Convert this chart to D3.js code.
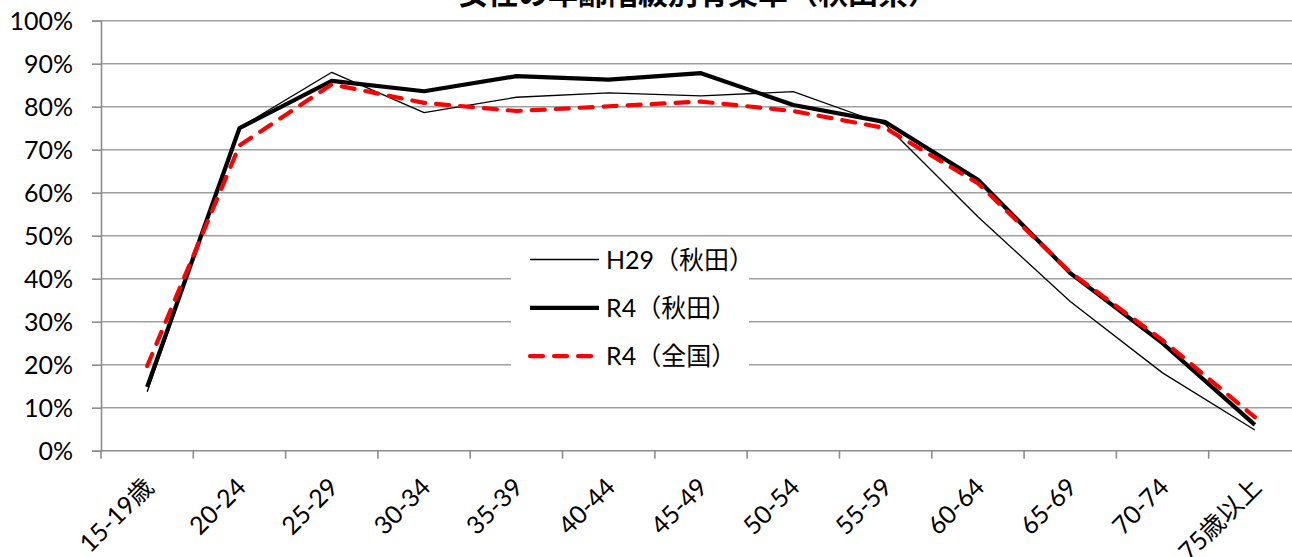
<!doctype html>
<html>
<head>
<meta charset="utf-8" />
<script src="https://cdn.jsdelivr.net/npm/d3@7"></script>
<style>
 body { margin: 0; background: #fff; }
 svg text { font-family: "Lato", "Noto Sans CJK JP", sans-serif; fill: #000; }
</style>
</head>
<body>
<script>
 // data (percent)
 var categories = ["15-19歳","20-24","25-29","30-34","35-39","40-44","45-49","50-54","55-59","60-64","65-69","70-74","75歳以上"];
 var h29Akita = [13.7, 75.1, 88.0, 78.6, 82.2, 83.2, 82.5, 83.5, 75.8, 54.4, 34.7, 18.1, 4.8];
 var r4Akita  = [14.8, 75.0, 86.0, 83.6, 87.1, 86.3, 87.8, 80.4, 76.4, 63.0, 41.3, 25.0, 6.0];
 var r4Zenkoku = [19.7, 71.0, 85.2, 80.9, 79.0, 80.1, 81.2, 79.0, 75.0, 62.2, 41.5, 25.7, 7.8];
 var yTicks = [0,10,20,30,40,50,60,70,80,90,100];

 var w = 1292, h = 557;
 var plotLeft = 101, plotRight = 1301, plotTop = 20.7, plotBottom = 450.7;

 var svg = d3.select("body").append("svg")
     .attr("width", w).attr("height", h);

 var xScale = d3.scaleBand().domain(categories).range([plotLeft, plotRight]);
 var yScale = d3.scaleLinear().domain([0,100]).range([plotBottom, plotTop]);

 // title (cut off at top in the original)
 svg.append("text")
    .attr("x", 698).attr("y", 4)
    .attr("text-anchor", "middle")
    .attr("font-size", "30px")
    .attr("font-weight", "bold")
    .text("女性の年齢階級別有業率（秋田県）");

 // gridlines
 svg.append("g").selectAll("line")
    .data(yTicks.slice(1))
    .enter().append("line")
    .attr("x1", plotLeft).attr("x2", plotRight)
    .attr("y1", function(d){ return yScale(d); })
    .attr("y2", function(d){ return yScale(d); })
    .attr("stroke", "#a0a0a0").attr("stroke-width", 1.6);

 // y axis
 var yAxis = d3.axisLeft(yScale).tickValues(yTicks).tickSize(9).tickPadding(19)
     .tickFormat(function(d){ return d + "%"; });
 var gy = svg.append("g").attr("transform", "translate(" + plotLeft + ",0)").call(yAxis);
 gy.select(".domain").attr("stroke", "#8c8c8c").attr("stroke-width", 1.6);
 gy.selectAll(".tick line").attr("stroke", "#8c8c8c").attr("stroke-width", 1.6);
 gy.selectAll("text").attr("font-size", "25px").attr("font-family", null).attr("dy", "0.36em");

 // x axis line and ticks at band edges
 svg.append("line")
    .attr("x1", plotLeft).attr("x2", plotRight)
    .attr("y1", plotBottom).attr("y2", plotBottom)
    .attr("stroke", "#8c8c8c").attr("stroke-width", 1.6);
 svg.append("g").selectAll("line")
    .data(categories)
    .enter().append("line")
    .attr("x1", function(d){ return xScale(d); })
    .attr("x2", function(d){ return xScale(d); })
    .attr("y1", plotBottom).attr("y2", plotBottom + 8)
    .attr("stroke", "#8c8c8c").attr("stroke-width", 1.6);

 svg.append("g").selectAll("text")
    .data(categories)
    .enter().append("text")
    .attr("transform", function(d){
        return "translate(" + (xScale(d) + xScale.bandwidth()/2 + 8) + "," + (plotBottom + 38) + ") rotate(-45)";
    })
    .attr("text-anchor", "end")
    .attr("font-size", "25px")
    .text(function(d){ return d; });

 var cx = function(d, i){ return xScale(categories[i]) + xScale.bandwidth()/2; };
 var line = d3.line().x(cx).y(function(d){ return yScale(d); });

 var series = [
   {name: "H29（秋田）", values: h29Akita, color: "#000", width: 1.3, dash: null},
   {name: "R4（秋田）", values: r4Akita, color: "#000", width: 4.2, dash: null},
   {name: "R4（全国）", values: r4Zenkoku, color: "#ff0000", width: 4.2, dash: "13,11"}
 ];

 svg.append("g").selectAll("path")
    .data(series)
    .enter().append("path")
    .attr("d", function(s){ return line(s.values); })
    .attr("fill", "none")
    .attr("stroke", function(s){ return s.color; })
    .attr("stroke-width", function(s){ return s.width; })
    .attr("stroke-dasharray", function(s){ return s.dash; })
    .attr("stroke-linecap", function(s){ return s.dash ? "round" : "butt"; })
    .attr("stroke-linejoin", "round");

 // legend
 var lg = svg.append("g");
 lg.append("rect")
   .attr("x", 511).attr("y", 238.5).attr("width", 238).attr("height", 162)
   .attr("fill", "#fff");
 var rows = lg.selectAll("g")
   .data(series)
   .enter().append("g")
   .attr("transform", function(d, i){ return "translate(530," + (259.5 + i*48.3) + ")"; });
 rows.append("line")
   .attr("x1", 0).attr("x2", 69).attr("y1", 0).attr("y2", 0)
   .attr("stroke", function(s){ return s.color; })
   .attr("stroke-width", function(s){ return s.width; })
   .attr("stroke-dasharray", function(s){ return s.dash; })
   .attr("stroke-linecap", function(s){ return s.dash ? "round" : "butt"; });
 rows.append("text")
   .attr("x", 76).attr("dy", "0.36em")
   .attr("font-size", "25px")
   .text(function(s){ return s.name; });
</script>
</body>
</html>
